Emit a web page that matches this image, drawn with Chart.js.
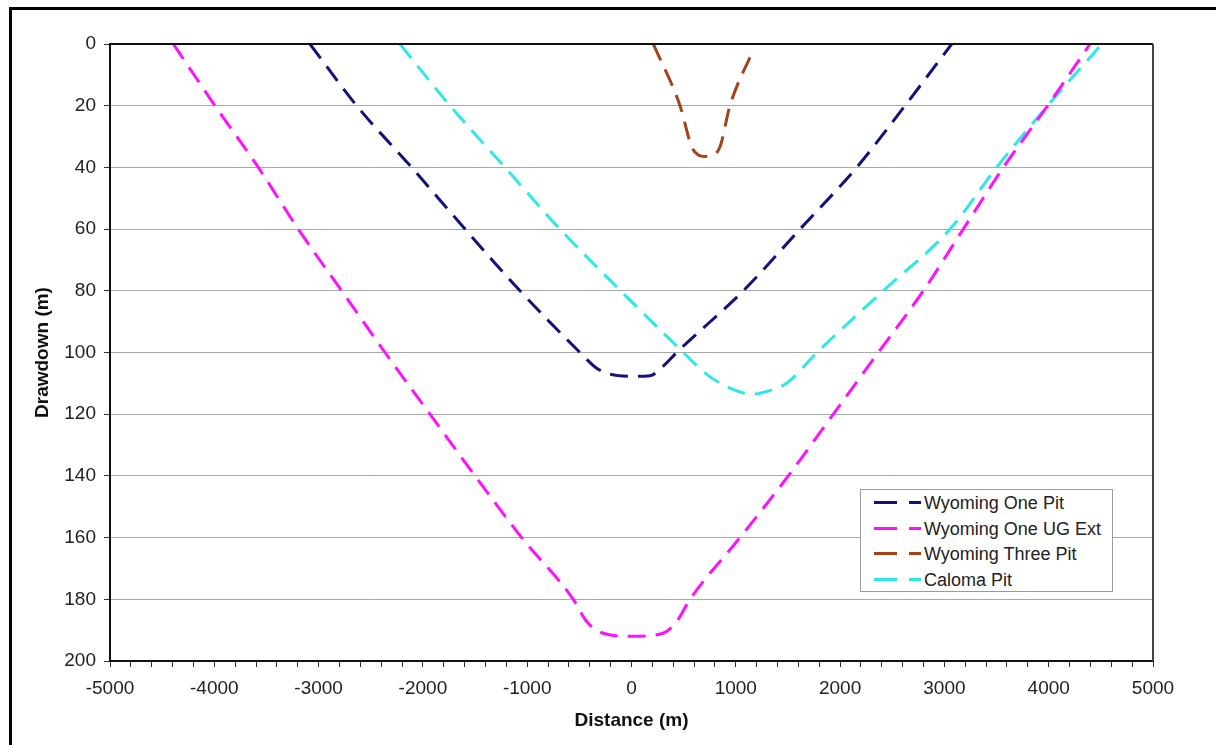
<!DOCTYPE html>
<html>
<head>
<meta charset="utf-8">
<script src="https://cdn.jsdelivr.net/npm/chart.js@4.4.0/dist/chart.umd.min.js"></script>
<style>
  html, body { margin: 0; padding: 0; background: #ffffff; }
  #wrap { position: relative; width: 1216px; height: 745px; overflow: hidden; }
  #frame { position: absolute; left: 9px; top: 7px; width: 1300px; height: 900px;
           border-left: 3px solid #000; border-top: 3px solid #000; box-sizing: border-box; }
  #box { position: absolute; left: 0; top: 0; width: 1216px; height: 745px; }
  #legend { position: absolute; left: 860px; top: 489px; width: 253px; height: 103px;
            border: 1px solid #9a9a9a; background: #fff; box-sizing: border-box;
            font-family: "Liberation Sans", Arial, sans-serif; font-size: 18px; color: #222; }
  .row { position: absolute; left: 0; height: 26px; width: 250px; }
  .d1, .d2 { position: absolute; top: 11px; height: 3px; }
  .d1 { left: 13px; width: 23px; }
  .d2 { left: 48px; width: 12px; }
  .lab { position: absolute; left: 63px; top: 2px; white-space: nowrap; line-height: 22px; }
</style>
</head>
<body>
<div id="wrap">
  <div id="frame"></div>
  <div id="box"><canvas id="c"></canvas></div>
  <div id="legend"></div>
</div>
<script>
// ---- data ----
const seriesNames = ["Wyoming One Pit", "Wyoming One UG Ext", "Wyoming Three Pit", "Caloma Pit"];

const wyoOnePitX = [-3083, -2635, -2108, -1596, -1069, -494, -334, -206, 0, 177, 302, 433, 1072, 1616, 2159, 2622, 3070];
const wyoOnePitY = [0, 20, 40, 60, 80, 100, 105.1, 107, 107.7, 107.5, 104.5, 100, 80, 60, 40, 20, 0];

const wyoOneUgX = [-4393, -3993, -3578, -3195, -2779, -2363, -1932, -1500, -1053, -558, -430, -270, 0, 302, 433, 561, 1040, 1503, 1935, 2366, 2798, 3181, 3565, 3990, 4396];
const wyoOneUgY = [0, 20, 40, 60, 80, 100, 120, 140, 160, 180, 187.2, 191, 192, 191, 187.2, 180, 160, 140, 120, 100, 80, 60, 40, 20, 0];

const wyoThreeX = [209, 465, 577, 640, 705, 781, 849, 944, 1168];
const wyoThreeY = [0, 20, 33.3, 36, 36.5, 36, 33.3, 20, 1.9];

const calomaX = [-2220, -1740, -1213, -686, -62, 497, 700, 847, 1040, 1165, 1300, 1490, 1778, 2414, 3054, 3501, 3990, 4510];
const calomaY = [0, 20, 40, 60, 81.4, 100, 106.5, 109.9, 112.8, 113.5, 112.6, 109.9, 100, 80, 60, 40, 20, 0];

const xTickMin = -5000, xTickMax = 5000, xMajorStep = 1000, xMinorStep = 200;
const yTickMin = 0, yTickMax = 200, yStep = 20;

const colors = ["#12127a", "#ff10ff", "#a4421a", "#2ee8e8"];

// ---- build ----
function zip(xs, ys) { return xs.map((x, i) => ({ x: x, y: ys[i] })); }
const seriesData = [zip(wyoOnePitX, wyoOnePitY), zip(wyoOneUgX, wyoOneUgY), zip(wyoThreeX, wyoThreeY), zip(calomaX, calomaY)];

const datasets = seriesNames.map((n, i) => ({
  label: n,
  data: seriesData[i],
  borderColor: colors[i],
  backgroundColor: colors[i],
  borderWidth: 3,
  borderDash: [18, 10],
  borderCapStyle: 'butt',
  pointRadius: 0,
  fill: false,
  cubicInterpolationMode: 'monotone'
}));

const frame = {
  id: 'plotFrame',
  afterDatasetsDraw(chart) {
    const a = chart.chartArea, ctx = chart.ctx;
    ctx.save();
    ctx.lineWidth = 2;
    ctx.strokeStyle = '#111';
    ctx.beginPath();
    ctx.moveTo(a.left, a.bottom); ctx.lineTo(a.left, a.top); ctx.lineTo(a.right, a.top);
    ctx.moveTo(a.left, a.bottom); ctx.lineTo(a.right, a.bottom);
    ctx.stroke();
    ctx.strokeStyle = '#444';
    ctx.beginPath();
    ctx.moveTo(a.right, a.top); ctx.lineTo(a.right, a.bottom);
    ctx.stroke();
    ctx.restore();
  }
};

const tickFont = { family: "'Liberation Sans', Arial, sans-serif", size: 19 };
const titleFont = { family: "'Liberation Sans', Arial, sans-serif", size: 19, weight: 'bold' };

const chart = new Chart(document.getElementById('c'), {
  type: 'line',
  data: { datasets: datasets },
  options: {
    responsive: true,
    maintainAspectRatio: false,
    animation: false,
    layout: { padding: { top: 44, right: 63, left: 0, bottom: 0 } },
    plugins: { legend: { display: false }, tooltip: { enabled: false } },
    scales: {
      x: {
        type: 'linear',
        min: xTickMin, max: xTickMax,
        border: { display: true, color: '#111', width: 2 },
        grid: { drawOnChartArea: false, drawTicks: true, tickLength: 6, tickColor: '#333', lineWidth: 1 },
        ticks: {
          stepSize: xMinorStep, autoSkip: false, maxRotation: 0, padding: 10,
          color: '#222', font: tickFont,
          callback: (v) => (v % xMajorStep === 0 ? String(v) : '')
        },
        title: { display: true, text: 'Distance (m)', color: '#111', font: titleFont, padding: { top: 4, bottom: 13 } },
        afterFit: (s) => { s.height = 84; }
      },
      y: {
        type: 'linear',
        reverse: true,
        min: yTickMin, max: yTickMax,
        border: { display: true, color: '#111', width: 2 },
        grid: { drawOnChartArea: true, color: '#a8a8a8', lineWidth: 1, tickLength: 6, tickColor: '#333' },
        ticks: { stepSize: yStep, padding: 8, color: '#222', font: tickFont },
        title: { display: true, text: 'Drawdown (m)', color: '#111', font: titleFont, padding: { top: 31, bottom: 4 } },
        afterFit: (s) => { s.width = 110; }
      }
    }
  },
  plugins: [frame]
});

// HTML legend built from the chart's datasets
const leg = document.getElementById('legend');
chart.data.datasets.forEach((ds, i) => {
  const row = document.createElement('div');
  row.className = 'row';
  row.style.top = (0 + i * 25.7) + 'px';
  const d1 = document.createElement('span'); d1.className = 'd1'; d1.style.background = ds.borderColor;
  const d2 = document.createElement('span'); d2.className = 'd2'; d2.style.background = ds.borderColor;
  const t = document.createElement('span'); t.className = 'lab'; t.textContent = ds.label;
  row.appendChild(d1); row.appendChild(d2); row.appendChild(t);
  leg.appendChild(row);
});
</script>
</body>
</html>
